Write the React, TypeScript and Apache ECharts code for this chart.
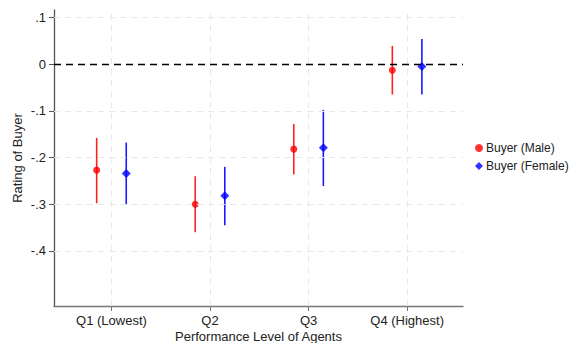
import React, { useEffect, useRef } from "react";
import * as echarts from "echarts";

const categories = ["Q1 (Lowest)", "Q2", "Q3", "Q4 (Highest)"];
const catPositions = [1, 2, 3, 4];
const maleMean = [-0.227, -0.3, -0.182, -0.013];
const maleLow = [-0.298, -0.36, -0.236, -0.065];
const maleHigh = [-0.158, -0.24, -0.128, 0.039];
const femaleMean = [-0.234, -0.282, -0.179, -0.005];
const femaleLow = [-0.3, -0.345, -0.261, -0.065];
const femaleHigh = [-0.168, -0.22, -0.098, 0.054];
const yTicks = [0.1, 0, -0.1, -0.2, -0.3, -0.4];
const dodge = 0.15;

const FONT = "Arial, 'Liberation Sans', sans-serif";

function fmtY(v: number): string {
  const r = Math.round(v * 10) / 10;
  if (r === 0) return "0";
  const s = Math.abs(r).toString().replace(/^0/, "");
  return (r < 0 ? "-" : "") + s;
}

export default function App() {
  const ref = useRef<HTMLDivElement>(null);
  useEffect(() => {
    if (!ref.current) return;
    const chart = echarts.init(ref.current, undefined, { renderer: "svg" });
    const errData = (low: number[], high: number[], off: number) =>
      catPositions.map((p, i) => [p + off, low[i], high[i]]);
    const errSeries = (name: string, low: number[], high: number[], off: number, color: string) => ({
      type: "custom",
      name: name + "_ci",
      data: errData(low, high, off),
      encode: { x: 0, y: [1, 2] },
      renderItem: (params: any, api: any) => {
        const p1 = api.coord([api.value(0), api.value(1)]);
        const p2 = api.coord([api.value(0), api.value(2)]);
        return {
          type: "line",
          shape: { x1: p1[0], y1: p1[1], x2: p2[0], y2: p2[1] },
          style: { stroke: color, lineWidth: 1.6 },
        };
      },
      z: 3,
    });
    const gridStyle = { color: "#e8e8e8", type: [6, 5], width: 1 };
    chart.setOption({
      animation: false,
      textStyle: { fontFamily: FONT },
      grid: { left: 54, right: 109, top: 10, bottom: 37, containLabel: false, outerBoundsMode: "none" },
      xAxis: {
        type: "value",
        min: 0.417,
        max: 4.567,
        name: "Performance Level of Agents",
        nameLocation: "middle",
        nameGap: 24,
        nameMoveOverlap: false,
        nameTextStyle: { fontSize: 13, color: "#222", fontFamily: FONT },
        axisLine: { show: true, onZero: false, lineStyle: { color: "#777", width: 1.3 } },
        axisTick: { show: true, length: 5, customValues: catPositions, lineStyle: { color: "#777" } },
        axisLabel: {
          customValues: catPositions,
          fontSize: 13,
          color: "#222",
          margin: 8,
          fontFamily: FONT,
          formatter: (v: number) => categories[Math.round(v) - 1] ?? "",
        },
        splitLine: { show: false },
      },
      yAxis: {
        type: "value",
        min: -0.518,
        max: 0.116,
        name: "Rating of Buyer",
        nameLocation: "middle",
        nameGap: 30,
        nameMoveOverlap: false,
        nameTextStyle: { fontSize: 13, color: "#222", fontFamily: FONT },
        axisLine: { show: true, onZero: false, lineStyle: { color: "#555", width: 1.3 } },
        axisTick: { show: true, length: 5, customValues: yTicks, lineStyle: { color: "#555" } },
        axisLabel: {
          customValues: yTicks,
          fontSize: 13,
          color: "#222",
          margin: 8,
          fontFamily: FONT,
          formatter: (v: number) => fmtY(v),
        },
        splitLine: { show: false },
      },
      legend: {
        orient: "vertical",
        left: 470,
        top: 137,
        itemGap: 6,
        itemWidth: 8,
        itemHeight: 8,
        textStyle: { fontSize: 12, color: "#222", fontFamily: FONT, padding: [0, 0, 0, -2] },
        data: [
          { name: "Buyer (Male)", icon: "circle" },
          { name: "Buyer (Female)", icon: "diamond" },
        ],
      },
      series: [
        {
          type: "line",
          name: "_grid",
          data: [],
          silent: true,
          markLine: {
            silent: true,
            symbol: "none",
            label: { show: false },
            lineStyle: gridStyle,
            data: [
              ...catPositions.map((p) => ({ xAxis: p })),
              ...yTicks.filter((v) => v !== 0).map((v) => ({ yAxis: v })),
            ],
          },
          z: 1,
        },
        {
          type: "line",
          name: "_zero",
          data: [],
          silent: true,
          markLine: {
            silent: true,
            symbol: "none",
            label: { show: false },
            lineStyle: { color: "#000", type: [7, 5], width: 1.4 },
            data: [{ yAxis: 0 }],
          },
          z: 2,
        },
        errSeries("Buyer (Male)", maleLow, maleHigh, -dodge, "#ff2020"),
        errSeries("Buyer (Female)", femaleLow, femaleHigh, dodge, "#1a1aff"),
        {
          type: "scatter",
          name: "Buyer (Male)",
          symbol: "circle",
          symbolSize: 7,
          itemStyle: { color: "#ff0000" },
          data: catPositions.map((p, i) => [p - dodge, maleMean[i]]),
          z: 4,
        },
        {
          type: "scatter",
          name: "Buyer (Female)",
          symbol: "diamond",
          symbolSize: 9,
          itemStyle: { color: "#0000ff" },
          data: catPositions.map((p, i) => [p + dodge, femaleMean[i]]),
          z: 4,
        },
      ],
    });
    return () => chart.dispose();
  }, []);
  return <div ref={ref} style={{ width: 572, height: 343, position: "absolute", left: 0, top: 0, background: "#fff" }} />;
}
